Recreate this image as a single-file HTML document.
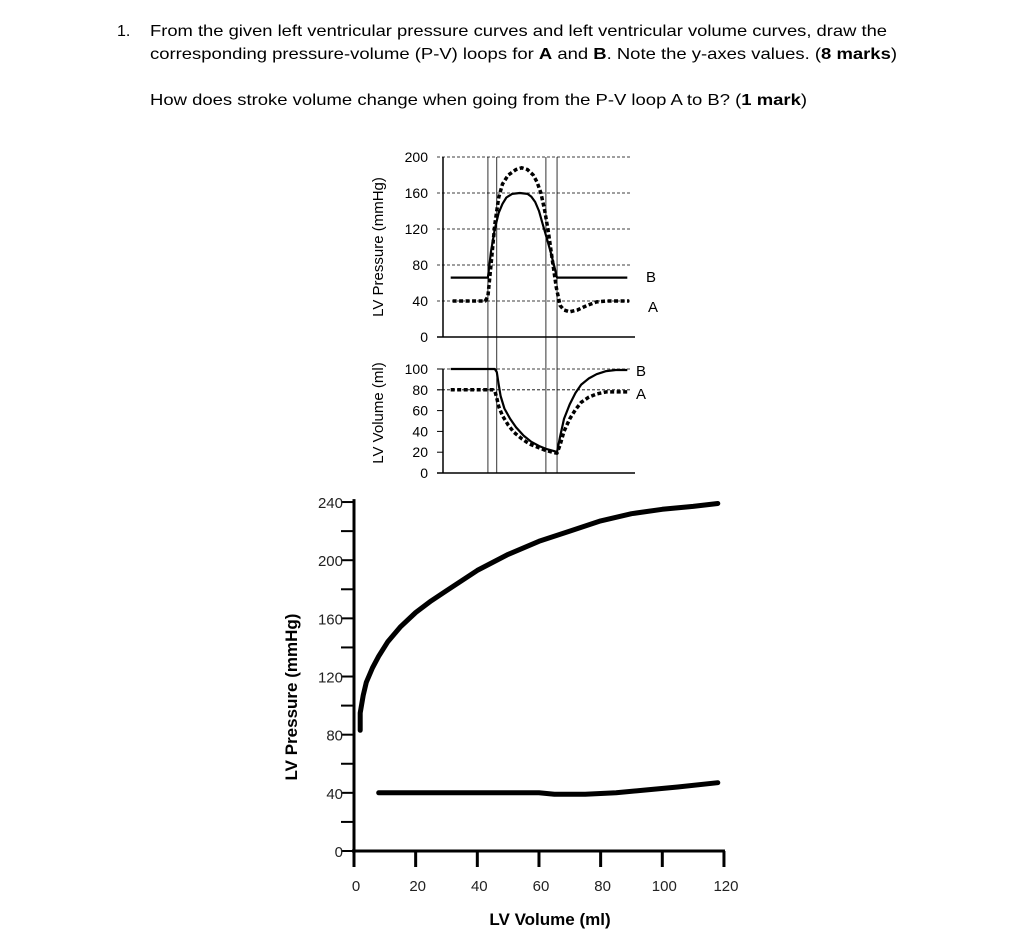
<!DOCTYPE html>
<html><head><meta charset="utf-8"><style>
html,body{margin:0;padding:0;background:#fff;}
svg{display:block;font-family:"Liberation Sans",Arial,sans-serif;}
</style></head><body>
<svg id="s" width="1024" height="943" viewBox="0 0 1024 943">
<g font-size="16" fill="#000">
<text x="117" y="36">1.</text>
<text x="150" y="36" textLength="737" lengthAdjust="spacingAndGlyphs">From the given left ventricular pressure curves and left ventricular volume curves, draw the</text>
<text x="150" y="59" textLength="747" lengthAdjust="spacingAndGlyphs">corresponding pressure-volume (P-V) loops for <tspan font-weight="bold">A</tspan> and <tspan font-weight="bold">B</tspan>. Note the y-axes values. (<tspan font-weight="bold">8 marks</tspan>)</text>
<text x="150" y="105" textLength="657" lengthAdjust="spacingAndGlyphs">How does stroke volume change when going from the P-V loop A to B? (<tspan font-weight="bold">1 mark</tspan>)</text>
</g>
<g id="gtop"></g>
<g id="gbot"></g>
</svg>
<script>
// ---- Top charts data (time in arbitrary units 0-100) ----
const pressTicks=[0,40,80,120,160,200];
const pressGrid=[40,80,120,160,200];
const volTicks=[0,20,40,60,80,100];
const volGrid=[80,100];
const phaseTimes=[23.4,28,53.6,59.4];
const pressB_t=[4,23.4,25,27,29,31,33,36,40,44,46,48,50,52,54,56,58,59.4,96];
const pressB_v=[66,66,95,120,138,148,155,159,160,159,156,150,140,125,110,95,78,66,66];
const pressA_t=[5,22,23.4,25,27,29,31,34,38,41,44,47,49,51,53,55,57,59,61,63,66,70,75,80,85,90,97];
const pressA_v=[40,40,45,80,125,155,170,180,186,188,186,180,172,160,140,115,85,55,35,30,28,30,35,39,40,40,40];
const volB_t=[4,27,28,29,30,32,35,38,42,46,50,54,58,59.4,61,63,66,69,72,76,80,85,90,96];
const volB_v=[100,100,97,85,74,62,52,44,36,30,26,23,21,20,35,52,66,77,85,91,95,98,99,99];
const volA_t=[4,26,27,28,29,31,34,37,41,45,49,53,57,59.4,61,63,66,69,72,76,80,85,90,96];
const volA_v=[80,80,79,72,64,55,46,39,33,28,25,22,20,19,27,40,52,61,68,73,76,78,78,78];
// ---- P-V chart data ----
const pvXTicks=[0,20,40,60,80,100,120];
const pvYTicks=[0,40,80,120,160,200,240];
const espvrV=[2,2,3,4,6,8,11,15,20,25,30,40,50,60,70,80,90,100,110,118];
const espvrP=[83,95,107,116,126,134,144,154,164,172,179,193,204,213,220,227,232,235,237,239];
const edpvrV=[8,30,60,65,75,85,95,105,118];
const edpvrP=[40,40,40,39,39,40,42,44,47];

const NS="http://www.w3.org/2000/svg";
function mk(parent,tag,attrs){const e=document.createElementNS(NS,tag);for(const k in attrs)e.setAttribute(k,attrs[k]);parent.appendChild(e);return e;}
const gTop=document.getElementById('gtop'), gBot=document.getElementById('gbot');
const tx=t=>443+t*1.92;
const py=p=>337-p*0.9;
const vy=v=>473-v*1.04;

let e;
e=mk(gTop,'line',{x1:443,y1:157,x2:443,y2:337,stroke:'#000','stroke-width':1.5});


e=mk(gTop,'line',{x1:437,y1:py(0),x2:635,y2:py(0),stroke:'#000','stroke-width':1.5});


pressGrid.forEach(g=>{
 e=mk(gTop,'line',{x1:437,y1:py(g),x2:630,y2:py(g),stroke:'#000','stroke-width':0.8,'stroke-dasharray':'3,2'});
 
 
});
pressTicks.forEach(g=>{
 e=mk(gTop,'text',{x:428,y:py(g)+5,'text-anchor':'end','font-size':14});
 e.textContent=g;
 
 
});
e=mk(gTop,'text',{x:383,y:247,'text-anchor':'middle','font-size':15,transform:'rotate(-90 383 247)'});
e.textContent='LV Pressure (mmHg)';


e=mk(gTop,'line',{x1:443,y1:369,x2:443,y2:473,stroke:'#000','stroke-width':1.5});


e=mk(gTop,'line',{x1:437,y1:vy(0),x2:635,y2:vy(0),stroke:'#000','stroke-width':1.5});


volGrid.forEach(g=>{
 e=mk(gTop,'line',{x1:437,y1:vy(g),x2:630,y2:vy(g),stroke:'#000','stroke-width':0.8,'stroke-dasharray':'3,2'});
 
 
});
volTicks.forEach(g=>{
 e=mk(gTop,'line',{x1:437,y1:vy(g),x2:443,y2:vy(g),stroke:'#000','stroke-width':1});
 
 
 e=mk(gTop,'text',{x:428,y:vy(g)+5,'text-anchor':'end','font-size':14});
 e.textContent=g;
 
 
});
e=mk(gTop,'text',{x:383,y:413,'text-anchor':'middle','font-size':15,transform:'rotate(-90 383 413)'});
e.textContent='LV Volume (ml)';


phaseTimes.forEach(t=>{
 e=mk(gTop,'line',{x1:tx(t),y1:157,x2:tx(t),y2:473,stroke:'#000','stroke-width':0.8});
 
 
});
function path(g,ts,vs,xf,yf,dash,w){
 const d=ts.map((t,i)=>(i?'L':'M')+xf(t).toFixed(1)+','+yf(vs[i]).toFixed(1)).join(' ');
 const a={d:d,fill:'none',stroke:'#000','stroke-width':w,'stroke-linejoin':'round'};
 if(dash)a['stroke-dasharray']=dash;
 return mk(g,'path',a);
}
e=path(gTop,pressB_t,pressB_v,tx,py,null,2.2);


e=path(gTop,pressA_t,pressA_v,tx,py,'4,2.5',3.5);


e=path(gTop,volB_t,volB_v,tx,vy,null,2.2);


e=path(gTop,volA_t,volA_v,tx,vy,'4,2.5',3.5);


[['B',646,282,'pressure-label-b'],['A',648,312,'pressure-label-a'],['B',636,376,'volume-label-b'],['A',636,399,'volume-label-a']].forEach(l=>{
 e=mk(gTop,'text',{x:l[1],y:l[2],'font-size':15});
 e.textContent=l[0];
 
 
});

// ---- P-V chart ----
const X=v=>354+v*3.083;
const Y=p=>851-p*1.454;
e=mk(gBot,'line',{x1:354,y1:Y(242),x2:354,y2:Y(0),stroke:'#000','stroke-width':3});


e=mk(gBot,'line',{x1:352,y1:Y(0),x2:X(120)+1,y2:Y(0),stroke:'#000','stroke-width':3});


for(let p=0;p<=240;p+=20){
 e=mk(gBot,'line',{x1:341,y1:Y(p),x2:354,y2:Y(p),stroke:'#000','stroke-width':2});
 
 
}
pvYTicks.forEach(p=>{
 e=mk(gBot,'text',{x:343,y:Y(p)+6,'text-anchor':'end','font-size':15,fill:'#222'});
 e.textContent=p;
 
 
});
pvXTicks.forEach(v=>{
 e=mk(gBot,'line',{x1:X(v),y1:Y(0),x2:X(v),y2:Y(0)+16,stroke:'#000','stroke-width':3});
 
 
 e=mk(gBot,'text',{x:X(v)+2,y:891,'text-anchor':'middle','font-size':15,fill:'#222'});
 e.textContent=v;
 
 
});
e=mk(gBot,'text',{x:297,y:697,'text-anchor':'middle','font-size':17,'font-weight':'bold',transform:'rotate(-90 297 697)'});
e.textContent='LV Pressure (mmHg)';


e=mk(gBot,'text',{x:550,y:925,'text-anchor':'middle','font-size':17,'font-weight':'bold'});
e.textContent='LV  Volume (ml)';


e=path(gBot,espvrV,espvrP,X,Y,null,5);
e.setAttribute('stroke-linecap','round');


e=path(gBot,edpvrV,edpvrP,X,Y,null,5);
e.setAttribute('stroke-linecap','round');


</script>
</body></html>
